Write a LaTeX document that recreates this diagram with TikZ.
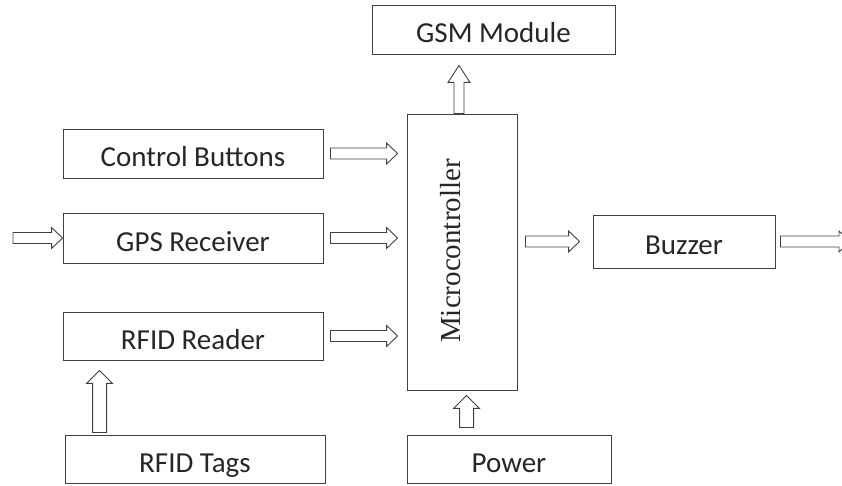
\documentclass[tikz,border=0pt]{standalone}
\usepackage{fontspec}
\setmainfont{Carlito}
\newfontfamily\mcufont{Liberation Serif}
\usetikzlibrary{calc}

\begin{document}
\begin{tikzpicture}[x=1pt,y=1pt,
    blk/.style={draw=black!75,line width=0.9pt,text=black!85,inner sep=0pt,
      minimum height=49pt,text height=27pt,text depth=0pt,font=\fontsize{29}{33}\selectfont},
    harrow/.style={draw=black!75,line width=0.9pt,
      to path={let \p1=(\tikztostart),\p2=(\tikztotarget) in
        (\x1,\y1+5.5pt) -- (\x2-11pt,\y1+5.5pt) -- (\x2-11pt,\y1+10.5pt) -- (\x2,\y1)
        -- (\x2-11pt,\y1-10.5pt) -- (\x2-11pt,\y1-5.5pt) -- (\x1,\y1-5.5pt) -- cycle}},
    varrow/.style n args={3}{draw=black!75,line width=0.9pt,
      to path={let \p1=(\tikztostart),\p2=(\tikztotarget) in
        (\x1-#1,\y1) -- (\x1-#1,\y2-#3) -- (\x1-#2,\y2-#3) -- (\x1,\y2)
        -- (\x1+#2,\y2-#3) -- (\x1+#1,\y2-#3) -- (\x1+#1,\y1) -- cycle}}]
  \useasboundingbox (0,0) rectangle (842,486);

  % blocks
  \node[blk,minimum width=243pt] (gsm) at (493.5,456.5) {GSM Module};
  \node[blk,minimum width=260pt] (ctrl) at (193,332.5) {Control Buttons};
  \node[blk,minimum width=260pt,minimum height=50pt] (gps) at (193,248) {GPS Receiver};
  \node[blk,minimum width=260pt,minimum height=48pt] (reader) at (193,150) {RFID Reader};
  \node[blk,minimum width=260pt,minimum height=48pt] (tags) at (195,27) {RFID Tags};
  \node[blk,minimum width=110pt,minimum height=276pt] (mcu) at (462,234) {};
  \node[rotate=90,text=black!85,font=\mcufont\fontsize{29}{33}\selectfont] (mcutext) at (451,235) {Microcontroller};
  \node[blk,minimum width=204pt,minimum height=48pt] (power) at (509,27) {Power};
  \node[blk,minimum width=182pt,minimum height=53pt] (buzzer) at (684,244.5) {Buzzer};

  \coordinate (gpsin) at (13,248);
  \coordinate (buzout) at (850,244.5);

  % arrows
  \draw[harrow] (gpsin) to (gps.west);
  \draw[harrow] ([xshift=7pt]ctrl.east) to ([xshift=-9pt]mcu.west);
  \draw[harrow] ([xshift=7pt]gps.east) to ([xshift=-9pt]mcu.west);
  \draw[harrow] ([xshift=7pt]reader.east) to ([xshift=-9pt]mcu.west);
  \draw[harrow] ($(mcu.east |- buzzer.west)+(8pt,0)$) to ([xshift=-13pt]buzzer.west);
  \draw[harrow] ([xshift=5pt]buzzer.east) to (buzout);
  \draw[varrow={5pt}{11pt}{17pt}] ([xshift=-3pt]mcu.north) to ([yshift=-11pt]gsm.south);
  \draw[varrow={7pt}{13pt}{13pt}] ($(tags.north west)+(35pt,2pt)$) to ([yshift=-10pt]reader.south);
  \draw[varrow={7pt}{13pt}{13pt}] ($(power.north west)+(60pt,7pt)$) to ([yshift=-5pt]mcu.south);
\end{tikzpicture}
\end{document}
